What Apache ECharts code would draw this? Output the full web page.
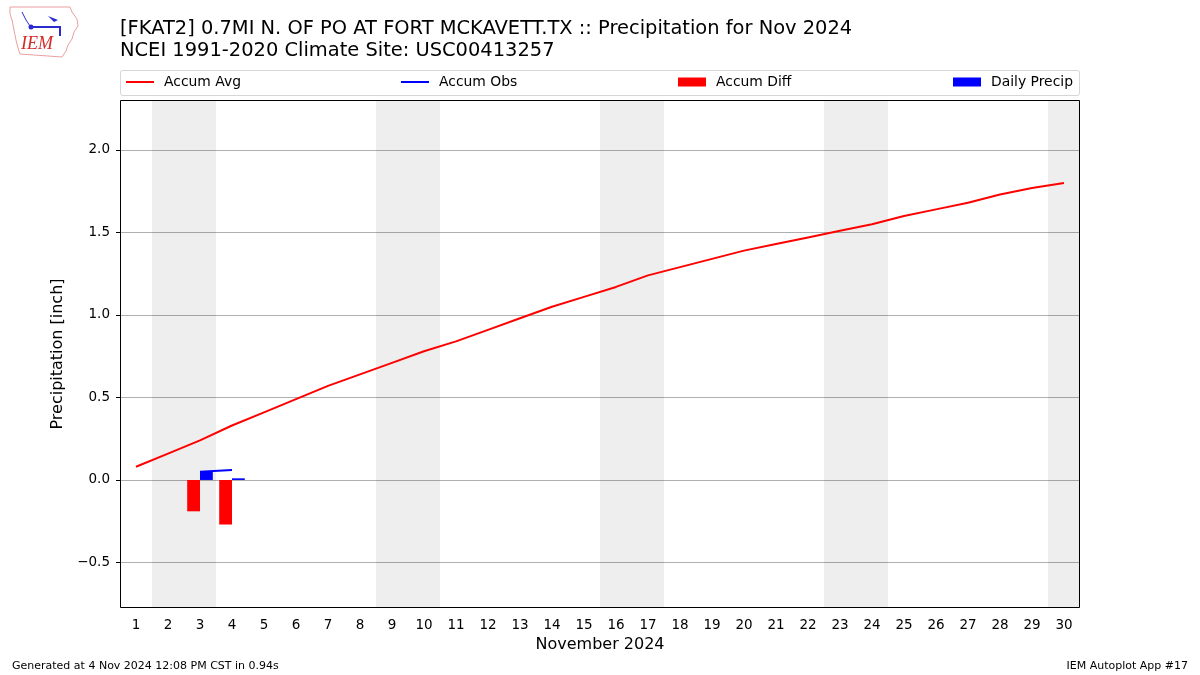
<!DOCTYPE html>
<html>
<head>
<meta charset="utf-8">
<script src="https://cdn.jsdelivr.net/npm/echarts@6/dist/echarts.min.js"></script>
<style>
  html, body { margin: 0; padding: 0; background: #fff; }
  #chart { width: 1200px; height: 675px; }
</style>
</head>
<body>
<div id="chart"></div>
<script>
// days of November 2024
const days = [1, 2, 3, 4, 5, 6, 7, 8, 9, 10, 11, 12, 13, 14, 15, 16, 17, 18, 19, 20,
    21, 22, 23, 24, 25, 26, 27, 28, 29, 30];

// climatology accumulated average (inch)
const accumAvg = [0.08, 0.16, 0.24, 0.33, 0.41, 0.49, 0.57, 0.64, 0.71, 0.78,
    0.84, 0.91, 0.98, 1.05, 1.11, 1.17, 1.24, 1.29, 1.34, 1.39,
    1.43, 1.47, 1.51, 1.55, 1.60, 1.64, 1.68, 1.73, 1.77, 1.80];

// observed so far (only days 3-4 reported)
const accumObs = [null, null, 0.05, 0.06];
const accumDiff = [null, null, -0.19, -0.27];
const dailyPrecip = [null, null, 0.05, 0.01];

// weekend spans [first day, last day]
const weekends = [[2, 3], [9, 10], [16, 17], [23, 24], [30, 30]];

const yTicks = [-0.5, 0.0, 0.5, 1.0, 1.5, 2.0];

const font = 'DejaVu Sans';

const fmtY = (v) => (v < 0 ? '\u2212' : '') + Math.abs(v).toFixed(1);

const chart = echarts.init(document.getElementById('chart'));

const legendBase = {
    top: 75,
    padding: 0,
    itemWidth: 28,
    itemGap: 0,
    textStyle: { fontFamily: font, fontSize: 13.9, color: '#000', padding: [0, 0, 0, 5] },
    selectedMode: false
};

chart.setOption({
    animation: false,
    backgroundColor: '#fff',
    title: {
        text: '[FKAT2] 0.7MI N. OF PO AT FORT MCKAVETT.TX :: Precipitation for Nov 2024\nNCEI 1991-2020 Climate Site: USC00413257',
        left: 120,
        top: 18,
        padding: 0,
        textStyle: { fontFamily: font, fontSize: 19.45, fontWeight: 'normal', color: '#000', lineHeight: 22 }
    },
    legend: [
        Object.assign({}, legendBase, { left: 126, data: ['Accum Avg'], icon: 'rect', itemHeight: 2 }),
        Object.assign({}, legendBase, { left: 401, data: ['Accum Obs'], icon: 'rect', itemHeight: 2 }),
        Object.assign({}, legendBase, { left: 678, data: ['Accum Diff'], icon: 'rect', itemHeight: 9 }),
        Object.assign({}, legendBase, { left: 953, data: ['Daily Precip'], icon: 'rect', itemHeight: 9 })
    ],
    grid: {
        left: 120, right: 120, top: 100, bottom: 67,
        show: false
    },
    xAxis: [
        {
            type: 'category',
            data: days,
            boundaryGap: true,
            name: 'November 2024',
            nameLocation: 'middle',
            nameGap: 29,
            nameTextStyle: { fontFamily: font, fontSize: 16, color: '#000' },
            axisLine: { show: false, onZero: false },
            axisTick: { alignWithLabel: true, length: 4, lineStyle: { color: '#000' } },
            axisLabel: { fontFamily: font, fontSize: 13.5, color: '#000', margin: 10, interval: 0 },
            splitLine: { show: false }
        },
        {
            type: 'value',
            min: 0.5, max: 30.5,
            show: false
        }
    ],
    yAxis: {
        type: 'value',
        min: -0.776, max: 2.303,
        name: 'Precipitation [inch]',
        nameLocation: 'middle',
        nameGap: 48,
        nameTextStyle: { fontFamily: font, fontSize: 16, color: '#000' },
        axisLine: { show: false },
        axisTick: { show: true, length: 4, customValues: yTicks, lineStyle: { color: '#000' } },
        axisLabel: { fontFamily: font, fontSize: 13.5, color: '#000', margin: 10, customValues: yTicks, formatter: fmtY },
        splitLine: { show: true, lineStyle: { color: '#b0b0b0', width: 1 } }
    },
    series: [
        {
            name: 'weekend',
            type: 'line',
            xAxisIndex: 1,
            data: [],
            silent: true,
            markArea: {
                silent: true,
                itemStyle: { color: 'rgba(0,0,0,0.067)' },
                data: weekends.map(w => [{ xAxis: w[0] - 0.5 }, { xAxis: w[1] + 0.5 }])
            },
            z: -1
        },
        {
            name: 'Accum Diff',
            type: 'bar',
            data: accumDiff,
            barWidth: '40%',
            barGap: '0%',
            itemStyle: { color: '#ff0000' },
            z: 3
        },
        {
            name: 'Daily Precip',
            type: 'bar',
            data: dailyPrecip,
            barWidth: '40%',
            barGap: '0%',
            itemStyle: { color: '#0000ff' },
            z: 3
        },
        {
            name: 'Accum Avg',
            type: 'line',
            data: accumAvg,
            showSymbol: false,
            lineStyle: { color: '#ff0000', width: 2 },
            itemStyle: { color: '#ff0000' },
            z: 4
        },
        {
            name: 'Accum Obs',
            type: 'line',
            data: accumObs,
            showSymbol: false,
            lineStyle: { color: '#0000ff', width: 2 },
            itemStyle: { color: '#0000ff' },
            z: 4
        }
    ],
    graphic: [
        {
            type: 'rect',
            shape: { x: 120.5, y: 70.5, width: 959, height: 25, r: 2 },
            style: { fill: 'rgba(255,255,255,0.8)', stroke: '#d6d6d6', lineWidth: 1 },
            z: -1
        },
        // plot frame
        {
            type: 'rect',
            shape: { x: 120.5, y: 100.5, width: 959, height: 507 },
            style: { fill: null, stroke: '#000', lineWidth: 1 },
            silent: true,
            z: 10
        },
        // simple IEM logo
        {
            type: 'polygon',
            shape: { points: [[10, 7], [70, 7], [72, 12], [77, 19], [78, 26], [74, 32], [72, 39], [68, 45], [66, 51], [62, 57], [20, 54], [18, 48], [16, 40], [14, 30], [12, 20], [10, 14]] },
            style: { fill: '#fff', stroke: '#e9a0a0', lineWidth: 1 }
        },
        {
            type: 'polyline',
            shape: { points: [[30, 27], [60, 27], [60, 36]] },
            style: { stroke: '#2b2bd0', lineWidth: 2, fill: null }
        },
        {
            type: 'circle',
            shape: { cx: 31, cy: 27, r: 2.5 },
            style: { fill: '#2b2bd0' }
        },
        {
            type: 'polyline',
            shape: { points: [[22, 12], [26, 20], [30, 26]] },
            style: { stroke: '#2b2bd0', lineWidth: 1, fill: null }
        },
        {
            type: 'polygon',
            shape: { points: [[48, 16], [58, 20], [54, 22]] },
            style: { fill: '#2b2bd0' }
        },
        {
            type: 'text',
            left: 21, top: 35,
            style: { text: 'IEM', font: 'italic 18px "Liberation Serif", serif', fill: '#d42a2a' }
        },
        {
            type: 'text',
            left: 12, top: 661,
            style: { text: 'Generated at 4 Nov 2024 12:08 PM CST in 0.94s', font: '11px "DejaVu Sans"', fill: '#000' }
        },
        {
            type: 'text',
            right: 12, top: 661,
            style: { text: 'IEM Autoplot App #17', font: '11px "DejaVu Sans"', fill: '#000' }
        }
    ]
});
</script>
</body>
</html>
